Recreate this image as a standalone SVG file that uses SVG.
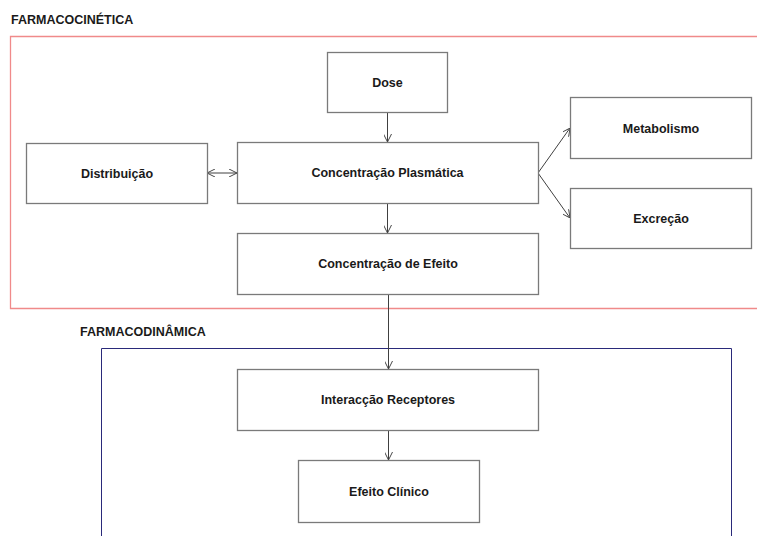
<svg xmlns="http://www.w3.org/2000/svg" width="757" height="536" viewBox="0 0 757 536">
<defs>
<marker id="arr" viewBox="0 0 10 10" refX="10" refY="5" markerWidth="8" markerHeight="8" markerUnits="userSpaceOnUse" orient="auto-start-reverse">
<path d="M0,0 L10,5 L0,10" fill="none" stroke="#404040" stroke-width="1.2"/>
</marker>
</defs>
<style>
.box{fill:#fff;stroke:#7a7a7a;stroke-width:1.3}
.lbl{font-family:"Liberation Sans",Arial,sans-serif;font-size:12.5px;font-weight:bold;fill:#1a1a1a;text-anchor:middle}
.ttl{font-family:"Liberation Sans",Arial,sans-serif;font-size:12.5px;font-weight:bold;fill:#1a1a1a}
.con{stroke:#404040;stroke-width:1;fill:none}
</style>
<rect width="757" height="536" fill="#fff"/>
<g id="farmacocinetica">
<text class="ttl" x="11" y="24">FARMACOCINÉTICA</text>
<path d="M760,36.5 H10.5 V308.5 H760" fill="none" stroke="#f08a8a" stroke-width="1.3"/>
</g>
<g id="farmacodinamica">
<text class="ttl" x="80" y="336">FARMACODINÂMICA</text>
<path d="M101.5,540 V348.5 H731.5 V540" fill="none" stroke="#2a2a7a" stroke-width="1"/>
</g>
<g id="connectors">
<line class="con" x1="387.5" y1="112" x2="387.5" y2="142" marker-end="url(#arr)"/>
<line class="con" x1="207" y1="173" x2="237" y2="173" marker-start="url(#arr)" marker-end="url(#arr)"/>
<line class="con" x1="538" y1="173" x2="570" y2="128" marker-end="url(#arr)"/>
<line class="con" x1="538" y1="173" x2="570" y2="218" marker-end="url(#arr)"/>
<line class="con" x1="387.5" y1="203" x2="387.5" y2="233" marker-end="url(#arr)"/>
<line class="con" x1="388.5" y1="294" x2="388.5" y2="369" marker-end="url(#arr)"/>
<line class="con" x1="388.5" y1="430" x2="388.5" y2="460" marker-end="url(#arr)"/>
</g>
<g id="dose"><rect class="box" x="327.5" y="52.5" width="120" height="60"/><text class="lbl" x="387.5" y="87">Dose</text></g>
<g id="distribuicao"><rect class="box" x="26.5" y="143.5" width="181" height="60"/><text class="lbl" x="117" y="177.5">Distribuição</text></g>
<g id="concentracao-plasmatica"><rect class="box" x="237.5" y="142.5" width="301" height="61"/><text class="lbl" x="387.5" y="177">Concentração Plasmática</text></g>
<g id="metabolismo"><rect class="box" x="570.5" y="97.5" width="181" height="61"/><text class="lbl" x="661" y="132.5">Metabolismo</text></g>
<g id="excrecao"><rect class="box" x="570.5" y="188.5" width="181" height="60"/><text class="lbl" x="661" y="222.5">Excreção</text></g>
<g id="concentracao-efeito"><rect class="box" x="237.5" y="233.5" width="301" height="61"/><text class="lbl" x="388" y="268">Concentração de Efeito</text></g>
<g id="interaccao-receptores"><rect class="box" x="237.5" y="369.5" width="301" height="61"/><text class="lbl" x="388" y="404">Interacção Receptores</text></g>
<g id="efeito-clinico"><rect class="box" x="298.5" y="460.5" width="181" height="62"/><text class="lbl" x="389" y="496">Efeito Clínico</text></g>
</svg>
